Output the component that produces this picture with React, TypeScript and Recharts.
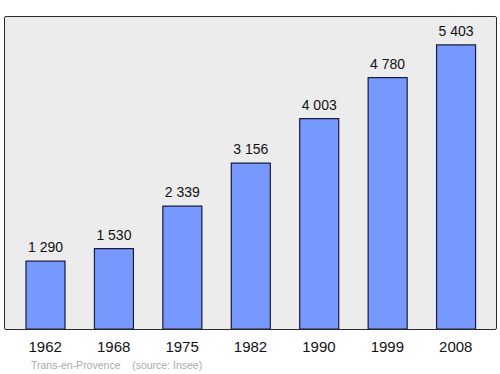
import { BarChart, Bar, XAxis, YAxis, CartesianGrid, LabelList } from "recharts";

const years = ["1962", "1968", "1975", "1982", "1990", "1999", "2008"];
const population = [1290, 1530, 2339, 3156, 4003, 4780, 5403];

const data = years.map((year, i) => ({ year, population: population[i] }));

const formatNumber = (v: any) => String(v).replace(/\B(?=(\d{3})+(?!\d))/g, " ");

export default function App() {
  return (
    <div style={{ position: "absolute", left: 0, top: 0, width: 500, height: 374, fontFamily: "'Liberation Sans', Arial, sans-serif" }}>
      <BarChart width={500} height={374} data={data} margin={{ top: 17, right: 4, bottom: 0, left: 5 }}>
        <CartesianGrid fill="#ececec" horizontal={false} vertical={false} />
        <XAxis
          dataKey="year"
          height={45}
          padding={{ left: 6, right: 6 }}
          tickLine={false}
          axisLine={false}
          tick={{ fill: "#111", fontSize: 15 }}
          tickMargin={6}
        />
        <YAxis domain={[0, 5935]} width={0} hide />
        <Bar dataKey="population" fill="#7799ff" stroke="#1a1a3a" strokeWidth={1.2} barSize={39} isAnimationActive={false}>
          <LabelList dataKey="population" position="top" offset={9} formatter={formatNumber} style={{ fill: "#111", fontSize: 14 }} />
        </Bar>
      </BarChart>
      <div
        style={{
          position: "absolute",
          left: 4,
          top: 16,
          width: 491,
          height: 312,
          border: "1.5px solid #2a2a2a",
          borderRadius: 2,
          pointerEvents: "none",
        }}
      />
      <div style={{ position: "absolute", left: 31, top: 359, fontSize: 10.5, color: "#aaaaaa", whiteSpace: "pre" }}>
        {"Trans-en-Provence    (source: Insee)"}
      </div>
    </div>
  );
}
